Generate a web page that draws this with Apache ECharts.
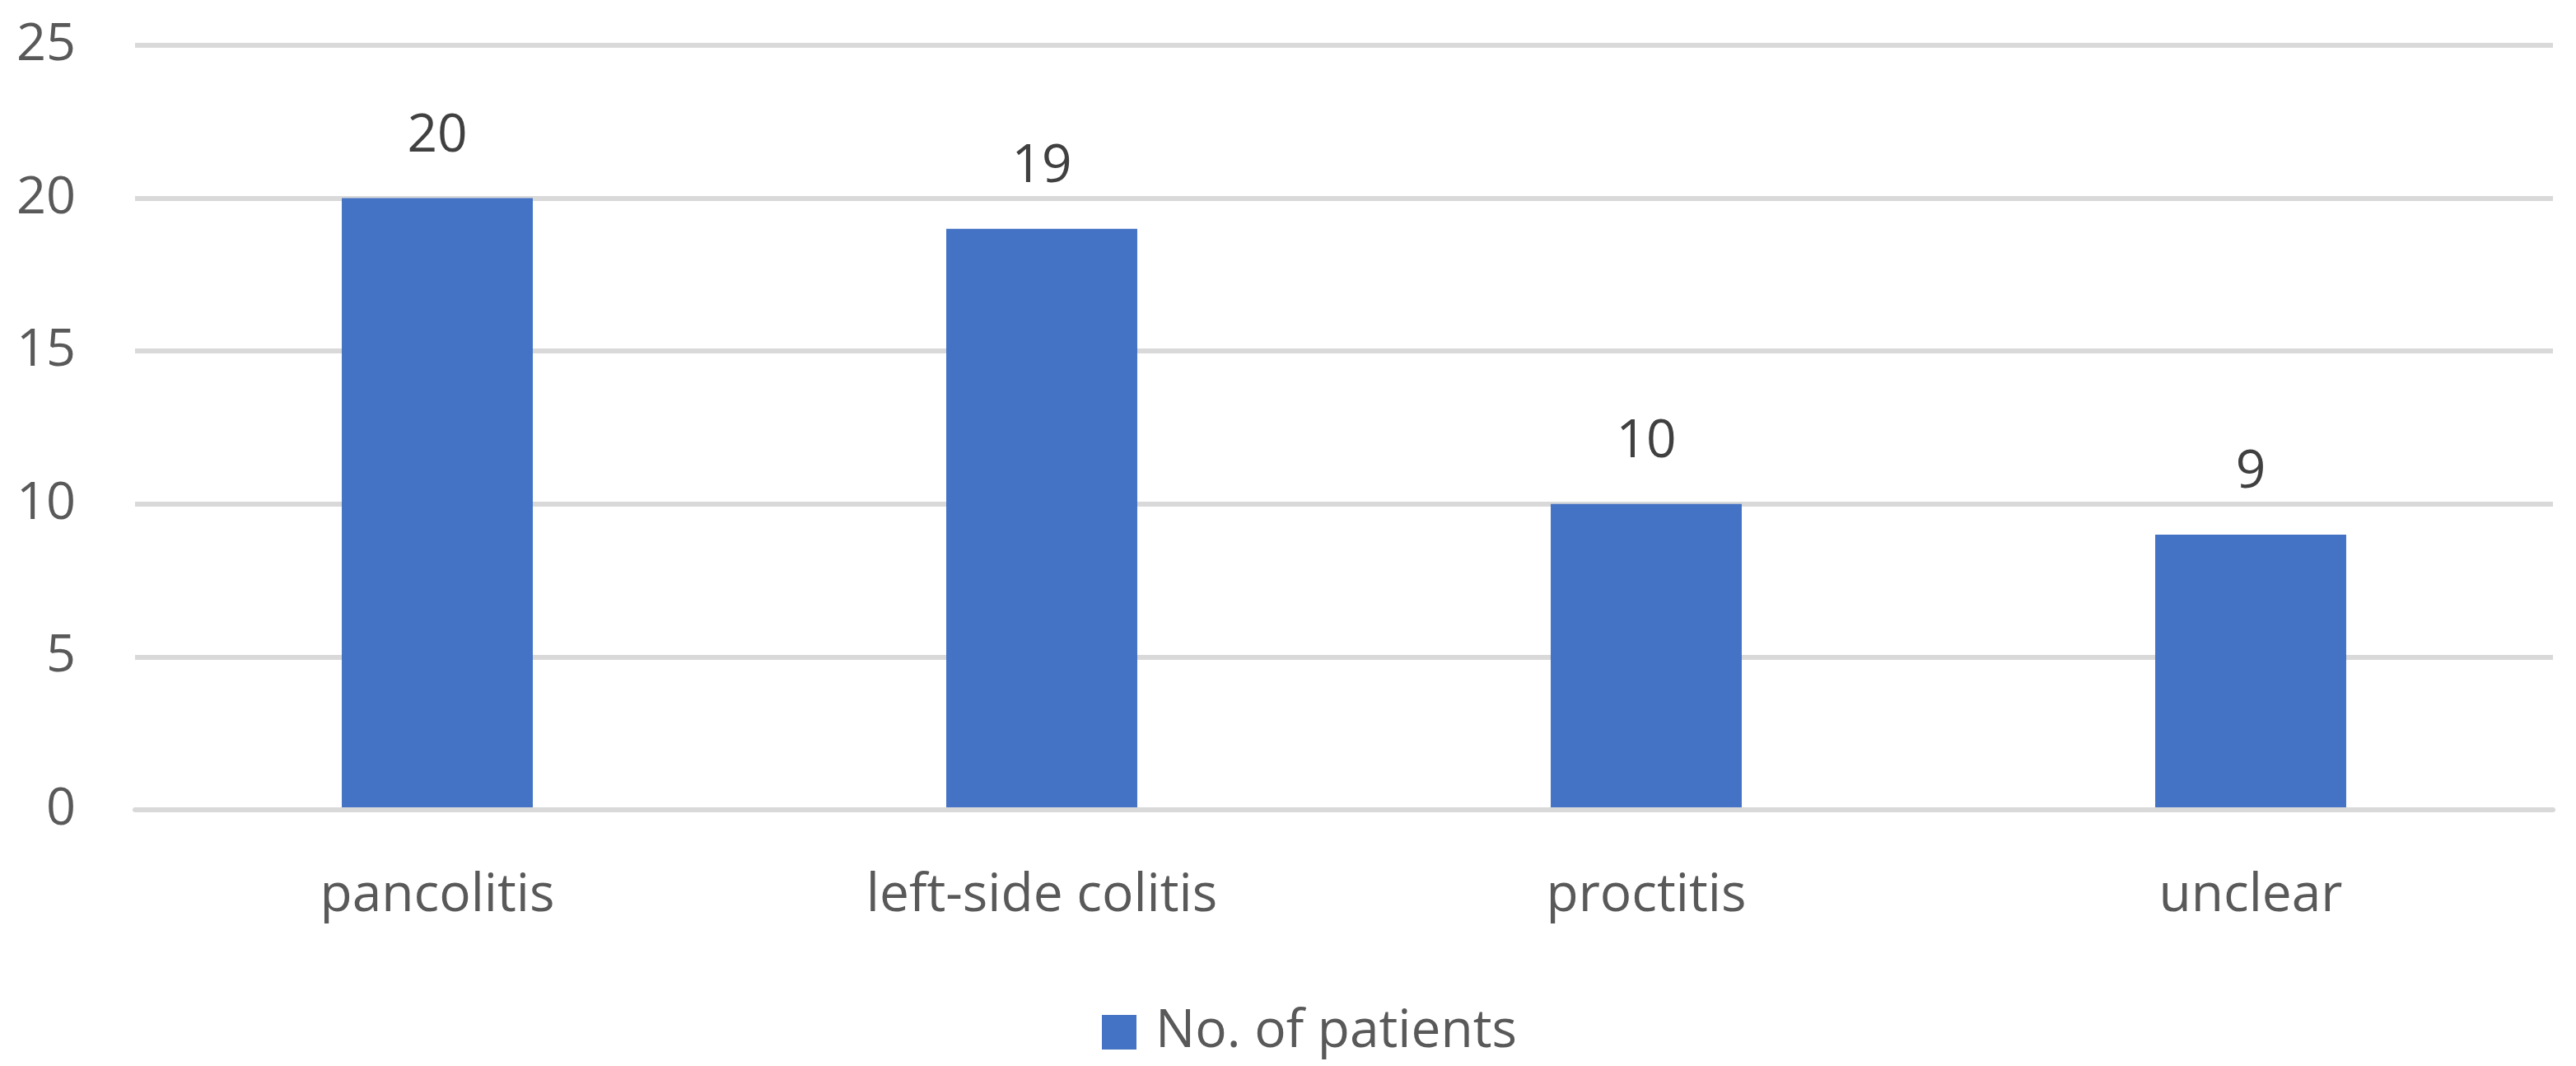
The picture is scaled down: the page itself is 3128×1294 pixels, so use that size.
<!DOCTYPE html>
<html><head><meta charset="utf-8">
<script src="https://cdn.jsdelivr.net/npm/echarts@6/dist/echarts.min.js"></script>
<style>html,body{margin:0;padding:0;background:#fff}#c{width:3128px;height:1294px}</style>
</head><body><div id="c"></div>
<script>
const categories = ['pancolitis', 'left-side colitis', 'proctitis', 'unclear'];
const patients = [20, 19, 10, 9];
const seriesName = 'No. of patients';
const yMin = 0, yMax = 25, yInterval = 5;

const FONT = 'Open Sans';
const chart = echarts.init(document.getElementById('c'), null, {renderer: 'canvas'});
chart.setOption({
  animation: false,
  backgroundColor: '#ffffff',
  textStyle: {fontFamily: FONT},
  grid: {left: 164, right: 28, top: 55, bottom: 311, containLabel: false},
  legend: {
    data: [seriesName],
    left: 1338, top: 1221, padding: 0,
    itemWidth: 42, itemHeight: 42, icon: 'rect',
    textStyle: {fontFamily: FONT, fontSize: 64, color: '#595959', lineHeight: 64, padding: [0, 0, 0, 18]}
  },
  xAxis: {
    type: 'category', data: categories, z: 3,
    axisTick: {show: false},
    axisLine: {show: true, lineStyle: {color: '#d9d9d9', width: 6}},
    axisLabel: {fontFamily: FONT, fontSize: 64, color: '#595959', margin: 73}
  },
  yAxis: {
    type: 'value', min: yMin, max: yMax, interval: yInterval,
    axisLine: {show: false}, axisTick: {show: false},
    splitLine: {lineStyle: {color: '#d9d9d9', width: 6}},
    axisLabel: {fontFamily: FONT, fontSize: 63, color: '#595959', margin: 72, padding: [6, 0, 0, 0]}
  },
  series: [{
    name: seriesName, type: 'bar', data: patients, barWidth: '31.6%',
    itemStyle: {color: '#4472C4'},
    label: {show: true, position: 'top', distance: 43, fontFamily: FONT, fontSize: 64, color: '#404040'}
  }]
});
</script></body></html>
